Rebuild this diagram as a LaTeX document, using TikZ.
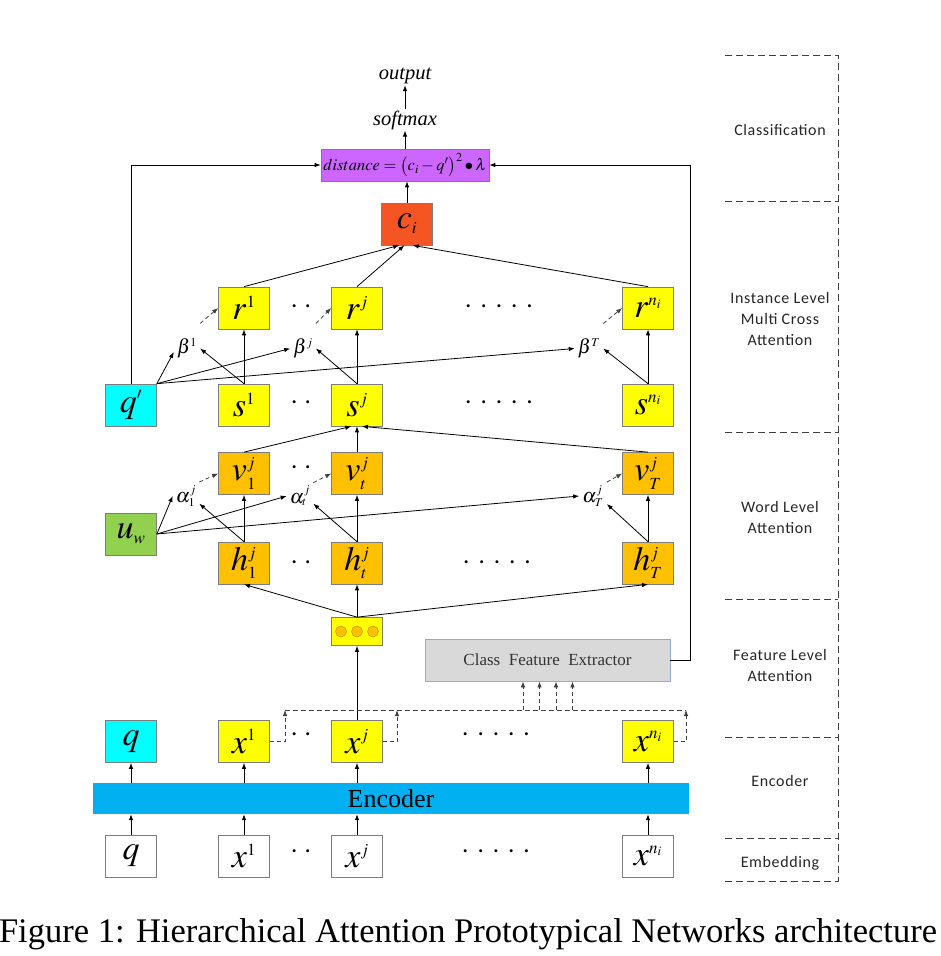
\documentclass[tikz,border=0pt]{standalone}
\usepackage{mathptmx}
\usepackage{fontspec}
\setmainfont{Liberation Serif}
\newfontfamily\lblfont[LetterSpace=4]{Carlito}
\usetikzlibrary{arrows.meta}
\DeclareMathSizes{34}{34}{17}{13}
\DeclareMathSizes{20}{20}{12}{9}
\definecolor{cpurple}{RGB}{204,102,255}
\definecolor{cred}{RGB}{245,85,35}
\definecolor{cyel}{RGB}{255,255,0}
\definecolor{ccyan}{RGB}{0,255,255}
\definecolor{corange}{RGB}{255,192,0}
\definecolor{cgreen}{RGB}{146,208,80}
\definecolor{cenc}{RGB}{0,176,240}
\definecolor{cfegray}{RGB}{217,217,217}
\definecolor{cfeborder}{RGB}{143,170,220}
\definecolor{bordergray}{RGB}{125,125,125}
\newcommand{\twodots}{·\hspace{5pt}·}
\newcommand{\fivedots}{·\hspace{7pt}·\hspace{7pt}·\hspace{7pt}·\hspace{7pt}·}
\tikzset{
  bx/.style={draw=bordergray, line width=0.7pt, minimum width=51pt, minimum height=42pt, inner sep=0pt, font=\fontsize{34}{38}\selectfont},
  ylw/.style={bx, fill=cyel},
  org/.style={bx, fill=corange},
  wht/.style={bx, fill=white},
  arr/.style={-{Latex[length=6pt,width=4.5pt]}, line width=0.8pt},
  darr/.style={arr, dash pattern=on 4pt off 3pt, draw=black!75},
  busline/.style={line width=0.8pt, dash pattern=on 5pt off 3pt, draw=black!75},
  greek/.style={font=\fontsize{20}{22}\selectfont, inner sep=3pt},
  dotsnode/.style={font=\fontsize{25}{25}\selectfont, inner sep=0pt},
  layerlbl/.style={font=\lblfont\fontsize{16}{21}\selectfont, align=center, text=black!85},
  layerline/.style={line width=0.8pt, dash pattern=on 7pt off 4pt, draw=black!75},
}
\begin{document}
\begin{tikzpicture}[x=1pt,y=-1pt]
\useasboundingbox (0,0) rectangle (941,956);
\fill[white] (0,0) rectangle (941,956);

% classification
\node[bx, fill=cpurple, minimum width=168pt, minimum height=32pt, font=\fontsize{16.5}{18}\selectfont] (dist) at (405,165) {$distance=\bigl(c_i-q'\bigr)^2\bullet\lambda$};
\node[font=\itshape\fontsize{20.5}{22}\selectfont, inner sep=1pt] (soft) at (405,120) {softmax};
\node[font=\itshape\fontsize{20.5}{22}\selectfont, inner sep=1pt] (out) at (405,76) {output};
\draw[arr] (dist.north) -- (soft.south);
\draw[arr] (soft.north) -- (out.south);
\node[bx, fill=cred] (ci) at (407,224) {$c_i$};
\draw[arr] (ci.north) -- (ci.north |- dist.south);

% instance level
\node[ylw] (r1) at (244,308) {$r^1$};
\node[ylw] (rj) at (357,308) {$r^j$};
\node[ylw] (rn) at (648,308) {$r^{n_i}$};
\node[ylw] (s1) at (244,405) {$s^1$};
\node[ylw] (sj) at (357,405) {$s^j$};
\node[ylw] (sn) at (648,405) {$s^{n_i}$};
\node[bx, fill=ccyan] (qp) at (131,405) {$q'$};
\node[dotsnode] (dr2) at (301,310) {\twodots};
\node[dotsnode] (dr5) at (499,310) {\fivedots};
\node[dotsnode] (ds2) at (301,406) {\twodots};
\node[dotsnode] (ds5) at (499,406) {\fivedots};
\node[greek] (b1) at (187,348.5) {$\beta^1$};
\node[greek] (bj) at (303,348.5) {$\beta^j$};
\node[greek] (bT) at (589,348.5) {$\beta^T$};

\draw[arr] (r1.north) -- (ci.250);
\draw[arr] (rj.north) -- (ci.263);
\draw[arr] (rn.north) -- (ci.285);
\foreach \n in {1,j,n} \draw[arr] (s\n.north) -- (r\n.south);
\draw[arr] (s1.north) -- (b1.east);
\draw[arr] (sj.north) -- (bj.east);
\draw[arr] (sn.north) -- (bT.east);
\draw[arr] (qp.north east) -- (b1.195);
\draw[arr] (qp.north east) -- (bj.west);
\draw[arr] (qp.north east) -- (bT.west);
\draw[darr] ([yshift=12pt]b1.north east) -- (r1.west);
\draw[darr] ([yshift=12pt]bj.north east) -- (rj.west);
\draw[darr] ([yshift=12pt]bT.north east) -- (rn.west);
\draw[arr] (qp.north) |- (dist.west);

% word level
\node[org] (v1) at (244,473.5) {$v_1^j$};
\node[org] (vt) at (357,473.5) {$v_t^j$};
\node[org] (vT) at (648,473.5) {$v_T^j$};
\node[org] (h1) at (244,563) {$h_1^j$};
\node[org] (ht) at (357,563) {$h_t^j$};
\node[org] (hT) at (648,563) {$h_T^j$};
\node[bx, fill=cgreen] (uw) at (131,534) {$u_w$};
\node[dotsnode] (dv2) at (301,471) {\twodots};
\node[dotsnode] (dh2) at (301,566) {\twodots};
\node[dotsnode] (dh5) at (497,566) {\fivedots};
\node[greek] (a1) at (186,496) {$\alpha_1^j$};
\node[greek] (at) at (300,496) {$\alpha_t^j$};
\node[greek] (aT) at (593,496) {$\alpha_T^j$};

\draw[arr] (v1.north) -- (sj.255);
\draw[arr] (vt.north) -- (sj.south);
\draw[arr] (vT.north) -- (sj.283);
\draw[arr] (h1.north) -- (v1.south);
\draw[arr] (ht.north) -- (vt.south);
\draw[arr] (hT.north) -- (vT.south);
\draw[arr] (h1.north) -- (a1.-30);
\draw[arr] (ht.north) -- (at.-30);
\draw[arr] (hT.north) -- (aT.-30);
\draw[arr] (uw.east) -- (a1.west);
\draw[arr] (uw.east) -- (at.west);
\draw[arr] (uw.east) -- (aT.west);
\draw[darr] (a1.north east) -- (v1.west);
\draw[darr] (at.north east) -- (vt.west);
\draw[darr] (aT.north east) -- (vT.west);

% feature level
\node[bx, fill=cyel, minimum height=28pt] (ooo) at (357,631.5) {};
\foreach \dx in {-16,0,16}
  \draw[fill=corange, draw=corange!75!black, line width=0.5pt] ([xshift=\dx pt]ooo.center) circle (5.5pt);
\node[draw=cfeborder, fill=cfegray, line width=0.8pt, minimum width=245pt, minimum height=42pt, inner sep=0pt, font=\fontsize{17}{20}\selectfont, text=black!80] (cfe) at (547.5,660) {Class\ \ Feature\ \ Extractor};
\draw[arr] (ooo.north) -- (h1.south);
\draw[arr] (ooo.north) -- (ht.south);
\draw[arr] (ooo.north) -- (hT.south);
\coordinate (cfeR) at (690,660);
\draw[arr] (cfe.east) -- (cfeR) |- (dist.east);

% encoder outputs
\node[bx, fill=ccyan] (q) at (131,741.5) {$q$};
\node[ylw] (x1) at (244,741.5) {$x^1$};
\node[ylw] (xj) at (357,741.5) {$x^j$};
\node[ylw] (xn) at (648,741.5) {$x^{n_i}$};
\node[dotsnode] (dx2) at (301,738) {\twodots};
\node[dotsnode] (dx5) at (496,738) {\fivedots};
\draw[arr] (xj.north) -- (ooo.south);
\coordinate (bus1) at (285,710);
\coordinate (busj) at (397,710);
\coordinate (busn) at (686,710);
\draw[darr] (x1.east) -| (bus1);
\draw[darr] (xj.east) -| (busj);
\draw[darr] (xn.east) -| (busn);
\draw[busline] (bus1) -- (busn);
\coordinate (c1) at (523,710);
\coordinate (c2) at (539.5,710);
\coordinate (c3) at (556,710);
\coordinate (c4) at (572.5,710);
\foreach \c in {c1,c2,c3,c4} \draw[darr] (\c) -- (\c |- cfe.south);

% encoder
\node[fill=cenc, minimum width=596pt, minimum height=31pt, inner sep=0pt, font=\fontsize{26}{28}\selectfont] (enc) at (391,798.5) {Encoder};
\node[wht] (eq) at (131,856) {$q$};
\node[wht] (e1) at (244,856) {$x^1$};
\node[wht] (ej) at (357,856) {$x^j$};
\node[wht] (en) at (648,856) {$x^{n_i}$};
\node[dotsnode] (de2) at (301,855) {\twodots};
\node[dotsnode] (de5) at (496,855) {\fivedots};
\foreach \a/\b in {eq/q,e1/x1,ej/xj,en/xn} {
  \draw[arr] (\a.north) -- (\a.north |- enc.south);
  \draw[arr] (\b.south |- enc.north) -- (\b.south);
}

% layer panel
\draw[layerline] (725,55) -- (838,55) -- (838,881) -- (725,881);
\foreach \yy in {201.5,432.5,599,737.5,838} \draw[layerline] (725,\yy) -- (838,\yy);
\node[layerlbl] (lc) at (780,130) {Classification};
\node[layerlbl] (li) at (780,318.5) {Instance Level\\Multi Cross\\Attention};
\node[layerlbl] (lw) at (780,517) {Word Level\\Attention};
\node[layerlbl] (lf) at (780,665) {Feature Level\\Attention};
\node[layerlbl] (le) at (780,781) {Encoder};
\node[layerlbl] (lm) at (780,863) {Embedding};

% caption
\node[font=\fontsize{34.5}{40}\selectfont, anchor=base, inner sep=0pt] (cap) at (468,942) {Figure 1: Hierarchical Attention Prototypical Networks architecture};
\end{tikzpicture}
\end{document}
